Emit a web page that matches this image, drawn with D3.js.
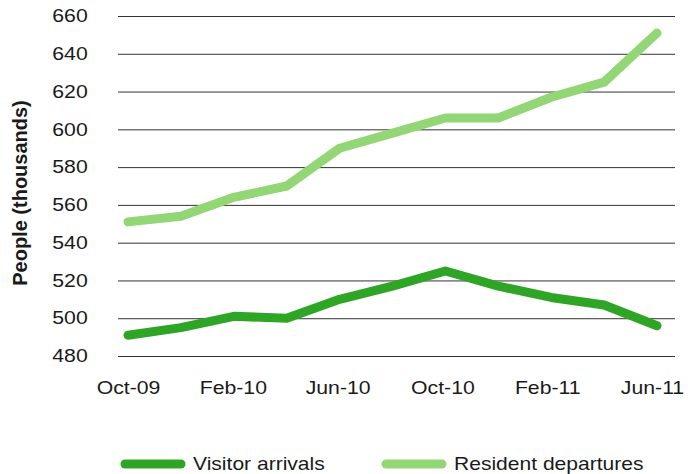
<!DOCTYPE html>
<html>
<head>
<meta charset="utf-8">
<script src="https://cdn.jsdelivr.net/npm/d3@7"></script>
<style>
  html, body { margin: 0; padding: 0; background: #fff; }
  svg { display: block; }
  text { font-family: "Liberation Sans", Arial, Helvetica, sans-serif; fill: #1a1a1a; }
  .wide { transform-box: fill-box; transform-origin: center; transform: scaleX(1.18); }
  .wideL { transform-box: fill-box; transform-origin: left center; transform: scaleX(1.17); }
</style>
</head>
<body>
<svg id="chart" width="688" height="474"></svg>
<script>
// ---- data ----
const months = ["Oct-09","Nov-09","Dec-09","Jan-10","Feb-10","Mar-10","Apr-10","May-10","Jun-10","Jul-10","Aug-10","Sep-10","Oct-10","Nov-10","Dec-10","Jan-11","Feb-11","Mar-11","Apr-11","May-11","Jun-11"];
const dataMonths = ["Oct-09","Dec-09","Feb-10","Apr-10","Jun-10","Aug-10","Oct-10","Dec-10","Feb-11","Apr-11","Jun-11"];
const visitorArrivals = [491, 495, 501, 500, 510, 517, 525, 517, 511, 507, 496];
const residentDepartures = [551, 554, 564, 570, 590, 598, 606, 606, 617, 625, 651];
const tickLabels = ["Oct-09","Feb-10","Jun-10","Oct-10","Feb-11","Jun-11"];
const yTicks = [480, 500, 520, 540, 560, 580, 600, 620, 640, 660];
const seriesNames = ["Visitor arrivals", "Resident departures"];
const seriesColors = ["#2fa526", "#93d675"];

// ---- layout ----
const svg = d3.select("#chart");
const gridLeft = 118, gridRight = 675;
const x = d3.scalePoint().domain(months).range([128, 657]);
const y = d3.scaleLinear().domain([480, 660]).range([356, 16]);

// gridlines + y labels
const yAxis = d3.axisLeft(y).tickValues(yTicks).tickSize(-(gridRight - gridLeft)).tickPadding(33).tickFormat(d3.format("d"));
const gy = svg.append("g").attr("transform", `translate(${gridLeft},0)`).call(yAxis);
gy.select(".domain").remove();
gy.selectAll(".tick line").attr("stroke", "#333").attr("stroke-width", 1);
gy.selectAll(".tick text").attr("class", "wide").style("font-size", "18px").attr("fill", "#1a1a1a");

// x labels
const xAxis = d3.axisBottom(x).tickValues(tickLabels).tickSize(0).tickPadding(25);
const gx = svg.append("g").attr("transform", `translate(0,${y(480)})`).call(xAxis);
gx.select(".domain").remove();
gx.selectAll(".tick text").attr("class", "wide").style("font-size", "18px").attr("fill", "#1a1a1a")
  .attr("dx", (d, i) => -i * 1.0);

// y title
svg.append("text")
  .attr("transform", `translate(27,${(y(660)+y(480))/2 + 7}) rotate(-90)`)
  .attr("text-anchor", "middle")
  .style("font-size", "20px").style("font-weight", "bold")
  .attr("fill", "#111")
  .text("People (thousands)");

// lines
const line = d3.line().x((d, i) => x(dataMonths[i])).y(d => y(d));
[visitorArrivals, residentDepartures].forEach((vals, k) => {
  svg.append("path").datum(vals)
    .attr("d", line)
    .attr("fill", "none")
    .attr("stroke", seriesColors[k])
    .attr("stroke-width", 9)
    .attr("stroke-linecap", "round")
    .attr("stroke-linejoin", "round");
});

// legend
const legendX = [125, 386];
seriesNames.forEach((name, k) => {
  const g = svg.append("g").attr("transform", `translate(${legendX[k]},464)`);
  g.append("line").attr("x1", 0).attr("x2", 56).attr("y1", 0).attr("y2", 0)
    .attr("stroke", seriesColors[k]).attr("stroke-width", 9).attr("stroke-linecap", "round");
  g.append("text").attr("x", 68).attr("dy", "0.35em")
    .style("font-size", "18px").attr("fill", "#1a1a1a")
    .attr("class", "wideL")
    .text(name);
});
</script>
</body>
</html>
